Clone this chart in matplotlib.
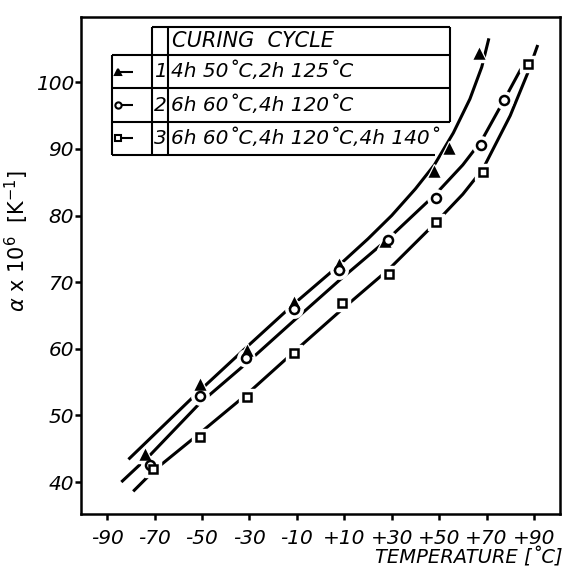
import numpy as np
import matplotlib
matplotlib.use('Agg')
import matplotlib.pyplot as plt

plt.rcParams['font.family'] = ['DejaVu Sans']

# measured points (temperature in C, alpha x 10^6 in 1/K)
t1 = [-74, -51, -31, -11, 8, 27, 48, 54, 67]
a1 = [44.0, 54.6, 59.7, 66.8, 72.6, 76.0, 86.5, 90.0, 104.3]
t2 = [-72, -51, -31.5, -11, 8, 28.5, 48.5, 67.5, 77.5]
a2 = [42.5, 52.9, 58.6, 66.0, 71.8, 76.3, 82.6, 90.6, 97.4]
t3 = [-70.5, -51, -31, -11, 9, 29, 48.5, 68.5, 87.5]
a3 = [42.0, 46.7, 52.8, 59.4, 66.8, 71.3, 79.0, 86.6, 102.8]

# hand drawn curves
ct1 = [-81, -51, -31, -11, 8, 20, 30, 40, 48, 56, 63, 68, 71]
ca1 = [43.4, 53.7, 60.3, 66.8, 72.6, 76.5, 80.0, 84.0, 87.6, 92.4, 97.5, 102.3, 106.6]
ct2 = [-84, -72, -51, -31, -11, 8, 28.5, 48.5, 60, 68, 77.5, 84.5]
ca2 = [40.0, 44.0, 51.8, 57.9, 64.3, 70.3, 76.5, 83.2, 87.6, 91.3, 97.4, 102.0]
ct3 = [-79, -70, -51, -31, -11, 9, 29, 48.5, 60, 68.5, 80, 87.5, 91.6]
ca3 = [38.6, 41.8, 47.3, 53.2, 59.6, 65.9, 72.0, 78.9, 83.2, 87.0, 95.0, 101.5, 105.6]

x_ticks = [-90, -70, -50, -30, -10, 10, 30, 50, 70, 90]
x_labels = ['-90', '-70', '-50', '-30', '-10', '+10', '+30', '+50', '+70', '+90']
y_ticks = [40, 50, 60, 70, 80, 90, 100]

row_nums = ['1', '2', '3']
cycles = ['4h 50˚C,2h 125˚C', '6h 60˚C,4h 120˚C', '6h 60˚C,4h 120˚C,4h 140˚']
markers = ['^', 'o', 's']
fills = ['k', 'w', 'w']
sizes = [6, 6.5, 6]

fig = plt.figure(figsize=(5.65, 5.71), dpi=100)
ax = fig.add_axes([0.1434, 0.0998, 0.8478, 0.8704])

for ct, ca in [(ct1, ca1), (ct2, ca2), (ct3, ca3)]:
    ax.plot(ct, ca, color='k', lw=2.2, solid_capstyle='butt', zorder=2)

for (t, a), m, fc, ms in zip([(t1, a1), (t2, a2), (t3, a3)], markers, fills, sizes):
    # white halo gives the gap in the line around each point
    ax.plot(t, a, ls='none', marker=m, ms=ms + 6, mfc='w', mec='w', zorder=3)
    ax.plot(t, a, ls='none', marker=m, ms=ms, mfc=fc, mec='k', mew=1.8, zorder=4)

ax.set_xlim(-101, 101)
ax.set_ylim(35.2, 109.8)
ax.set_xticks(x_ticks, x_labels)
ax.set_yticks(y_ticks)
ax.tick_params(direction='out', length=4, width=1.8, labelsize=14.5)
ax.tick_params(axis='x', pad=7)
ax.tick_params(axis='y', pad=1)
for lab in ax.get_xticklabels() + ax.get_yticklabels():
    lab.set_style('italic')
for sp in ax.spines.values():
    sp.set_linewidth(1.8)

ax.set_ylabel(r'$\alpha$ x 10$^6$  [K$^{-1}$]', fontsize=15)
ax.yaxis.set_label_coords(-0.105, 0.55)
ax.set_xlabel('TEMPERATURE [˚C]', fontsize=14, style='italic', ha='right')
ax.xaxis.set_label_coords(1.006, -0.068)

# table legend (axes fractions)
mk_l, num_l, txt_l, right = 0.0647, 0.1476, 0.182, 0.770
top, h1, h2, h3, bot = 0.979, 0.9235, 0.8565, 0.789, 0.7223
lk = dict(color='k', lw=1.5, transform=ax.transAxes, zorder=5, solid_capstyle='butt')
ax.plot([num_l, right], [top, top], **lk)
for yy in [h1, h2, h3]:
    ax.plot([mk_l, right], [yy, yy], **lk)
ax.plot([mk_l, 0.74], [bot, bot], **lk)
ax.plot([mk_l, mk_l], [h1, bot], **lk)
ax.plot([num_l, num_l], [top, bot], **lk)
ax.plot([txt_l, txt_l], [top, bot], **lk)
ax.plot([right, right], [top, h3], **lk)

ax.text(txt_l + 0.008, (top + h1) / 2, 'CURING  CYCLE', transform=ax.transAxes,
        fontsize=15, style='italic', va='center', ha='left', zorder=6)
row_y = [(h1 + h2) / 2, (h2 + h3) / 2, (h3 + bot) / 2]
for yy, n, c, m, fc in zip(row_y, row_nums, cycles, markers, fills):
    ax.plot([0.077, 0.1086], [yy, yy], **lk)
    ax.plot([0.077], [yy], marker=m, ms=4.5, mfc=fc, mec='k', mew=1.5,
            transform=ax.transAxes, zorder=6)
    ax.text((num_l + txt_l) / 2, yy, n, transform=ax.transAxes, fontsize=14.5,
            style='italic', va='center', ha='center', zorder=6)
    ax.text(txt_l + 0.006, yy, c, transform=ax.transAxes, fontsize=14.5,
            style='italic', va='center', ha='left', zorder=6)

fig.savefig('out.png', dpi=100)
